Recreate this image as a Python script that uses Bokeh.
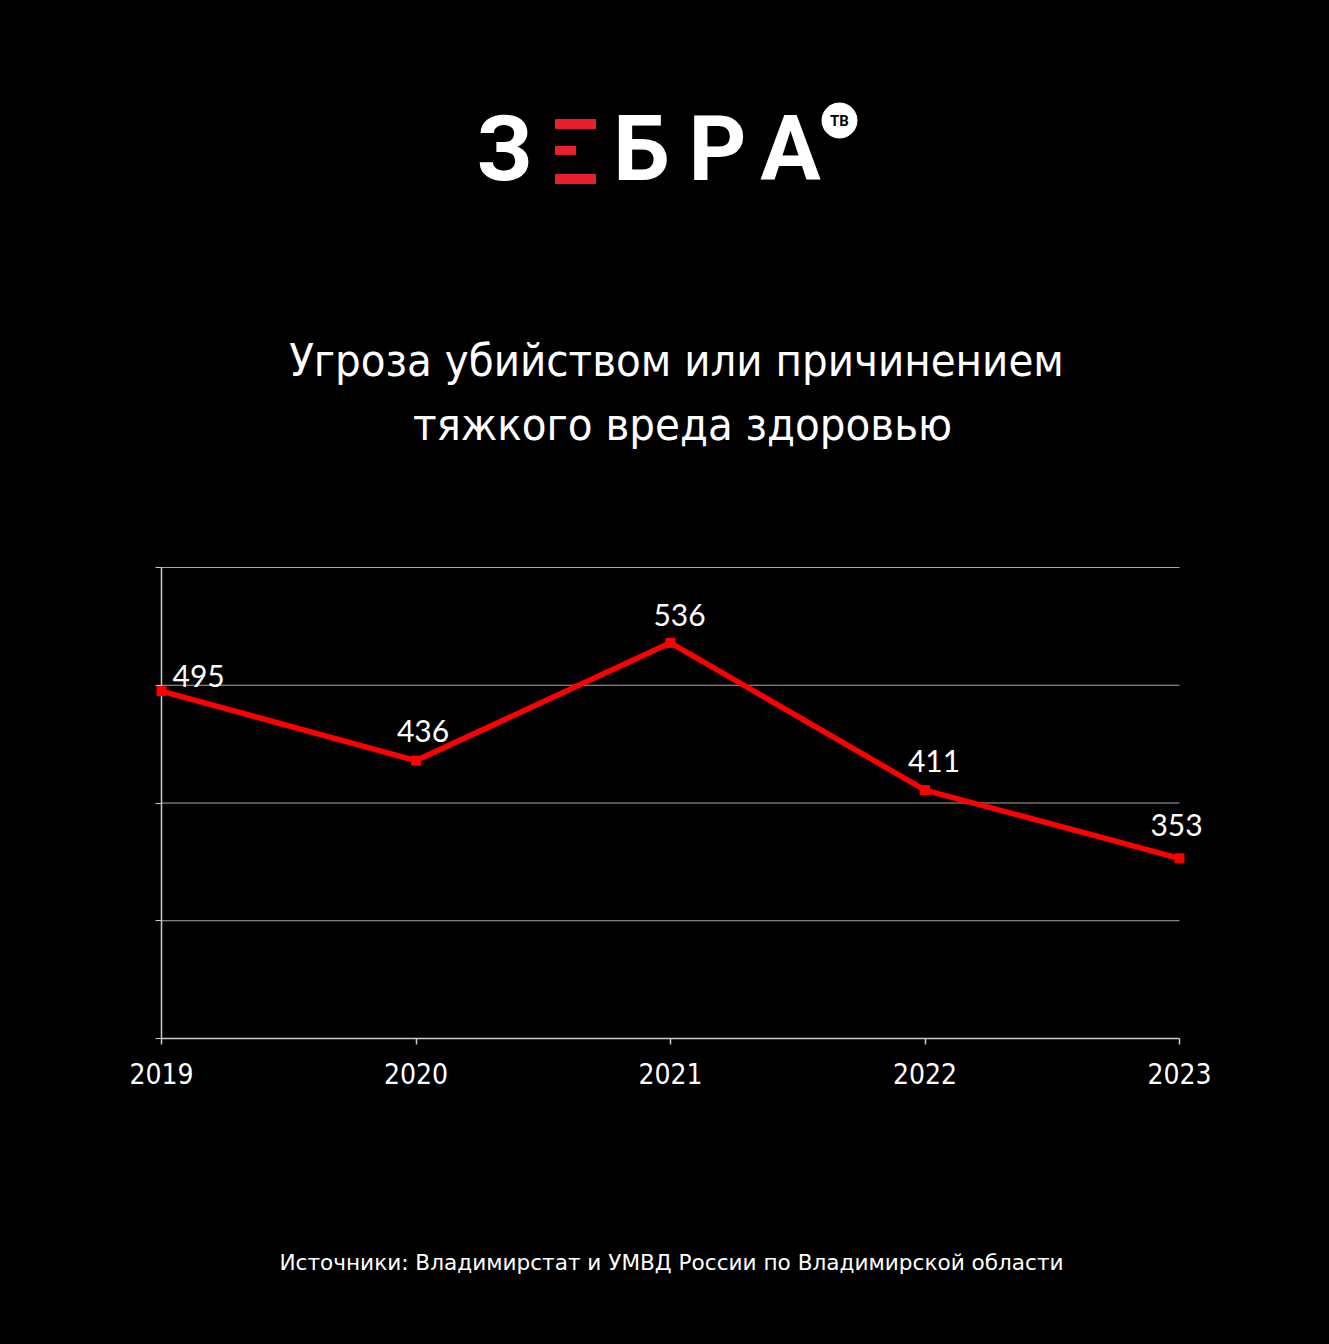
from bokeh.plotting import figure
from bokeh.layouts import column
from bokeh.models import Range1d, ColumnDataSource, FixedTicker, LabelSet
from bokeh.core.properties import value
from bokeh.embed import file_html
from bokeh.resources import INLINE

# ---- data ----
years = [2019, 2020, 2021, 2022, 2023]
counts = [495, 436, 536, 411, 353]
year_labels = ["2019", "2020", "2021", "2022", "2023"]
y_ticks = [200, 300, 400, 500, 600]
title_lines = ["Угроза убийством или причинением", "тяжкого вреда здоровью"]
source_note = "Источники: Владимирстат и УМВД России по Владимирской области"

# label placement (styling, screen px)
label_dx = [11, 7, 9, 9, -3]
label_dy = [4, 19, 17, 18, 22]
label_align = ["left", "center", "center", "center", "center"]

BG = "#000000"
RED = "#ff0000"
W = 1329
COND = "DejaVu Sans Condensed"
SHIFT = 0.38  # observed baseline shift of alphabetic text glyphs (fraction of font size)

# ---- chart geometry ----
px_per_year = 1018 / 4
px_per_unit = 471 / 400
padl, padr = 6, 32
pady = 2
fw = 1018 + padl + padr
fh = 471 + 2 * pady
left_b = 161 - padl
right_b = W - left_b - fw
HH = 500
top_b = 567 - pady
CH = 1120 - HH


def page_fig(height):
    f = figure(frame_width=fw, frame_height=height, min_border_left=left_b,
               min_border_right=right_b, min_border_top=0, min_border_bottom=0,
               x_range=Range1d(left_b, left_b + fw), y_range=Range1d(height, 0),
               toolbar_location=None, output_backend="svg")
    f.axis.visible = False
    f.grid.visible = False
    f.outline_line_color = None
    f.background_fill_color = BG
    f.border_fill_color = BG
    return f


# ---- header (logo + title) ----
head = page_fig(HH)
LS = 90
ly = 183 - SHIFT * LS
head.text(x=[504, 641, 717, 790], y=[ly] * 4, text=["З", "Б", "Р", "А"], text_color="white",
          text_font=value("Roboto"), text_font_size=f"{LS}px", text_font_style="bold",
          text_align="center", text_baseline="alphabetic")
head.quad(left=[555, 555, 555], right=[595, 575, 595], top=[119, 146, 174],
          bottom=[128, 154, 183], color="#e8202a")
head.circle(x=[839], y=[120], radius=17.5, color="white")
head.text(x=[839], y=[126 - SHIFT * 15], text=["ТВ"], text_color="black",
          text_font=value("Roboto"), text_font_size="15px", text_font_style="bold",
          text_align="center", text_baseline="alphabetic")

TS = 45
head.text(x=[676, 682], y=[377 - SHIFT * TS, 441 - SHIFT * TS], text=title_lines,
          text_color="white", text_font=value(COND), text_font_size=f"{TS}px",
          text_align="center", text_baseline="alphabetic")

# ---- chart ----
p = figure(frame_width=fw, frame_height=fh,
           min_border_left=left_b, min_border_right=right_b,
           min_border_top=top_b - HH, min_border_bottom=CH - (top_b - HH) - fh,
           x_range=Range1d(years[0] - padl / px_per_year, years[-1] + padr / px_per_year),
           y_range=Range1d(y_ticks[0] - pady / px_per_unit, y_ticks[-1] + pady / px_per_unit),
           toolbar_location=None, output_backend="svg")
p.background_fill_color = BG
p.border_fill_color = BG
p.outline_line_color = None
p.grid.visible = False

GRID = "#a8a8a8"
p.segment(x0=[years[0]] * 4, x1=[years[-1]] * 4, y0=y_ticks[1:], y1=y_ticks[1:],
          line_color=GRID, line_width=1.2)
p.segment(x0=[years[0]], x1=[years[-1]], y0=[y_ticks[0]], y1=[y_ticks[0]],
          line_color="#cccccc", line_width=1.5)
p.segment(x0=[years[0]], x1=[years[0]], y0=[y_ticks[0]], y1=[y_ticks[-1]],
          line_color="#cccccc", line_width=1.5)

p.line(years, counts, line_color=RED, line_width=5.5)
p.scatter(years, counts, marker="square", size=9, color=RED)

VS = 30
src = ColumnDataSource(dict(x=years, y=counts, t=[str(c) for c in counts],
                            dx=label_dx, dy=label_dy, al=label_align))
labels = LabelSet(x="x", y="y", text="t", x_offset="dx", y_offset="dy", text_align="al",
                  text_baseline="alphabetic", text_color="white", text_font=value("Lato"),
                  text_font_size=f"{VS}px", source=src)
p.add_layout(labels)

xa = p.xaxis[0]
xa.ticker = FixedTicker(ticks=years)
xa.major_label_overrides = {y: l for y, l in zip(years, year_labels)}
xa.axis_line_color = None
xa.major_tick_line_color = "#cccccc"
xa.major_tick_line_width = 1.5
xa.major_tick_in = pady
xa.major_tick_out = 4
xa.minor_tick_line_color = None
xa.major_label_text_color = "white"
xa.major_label_text_font = COND
xa.major_label_text_font_size = "28px"
xa.major_label_standoff = 18

ya = p.yaxis[0]
ya.ticker = FixedTicker(ticks=y_ticks)
ya.axis_line_color = None
ya.major_tick_line_color = "#cccccc"
ya.major_tick_in = padl
ya.major_tick_out = 0
ya.minor_tick_line_color = None
ya.major_label_text_font_size = "0px"
ya.major_label_text_color = None

# ---- footer ----
FH = 1344 - 1120
foot = page_fig(FH)
NS = 21.6
foot.text(x=[671], y=[150 - SHIFT * NS], text=[source_note], text_color="white",
          text_font=value("DejaVu Sans"), text_font_size=f"{NS}px", text_align="center",
          text_baseline="alphabetic")

layout = column(head, p, foot, spacing=0, styles={"background-color": BG})
open("out.html", "w").write(file_html(layout, INLINE))
